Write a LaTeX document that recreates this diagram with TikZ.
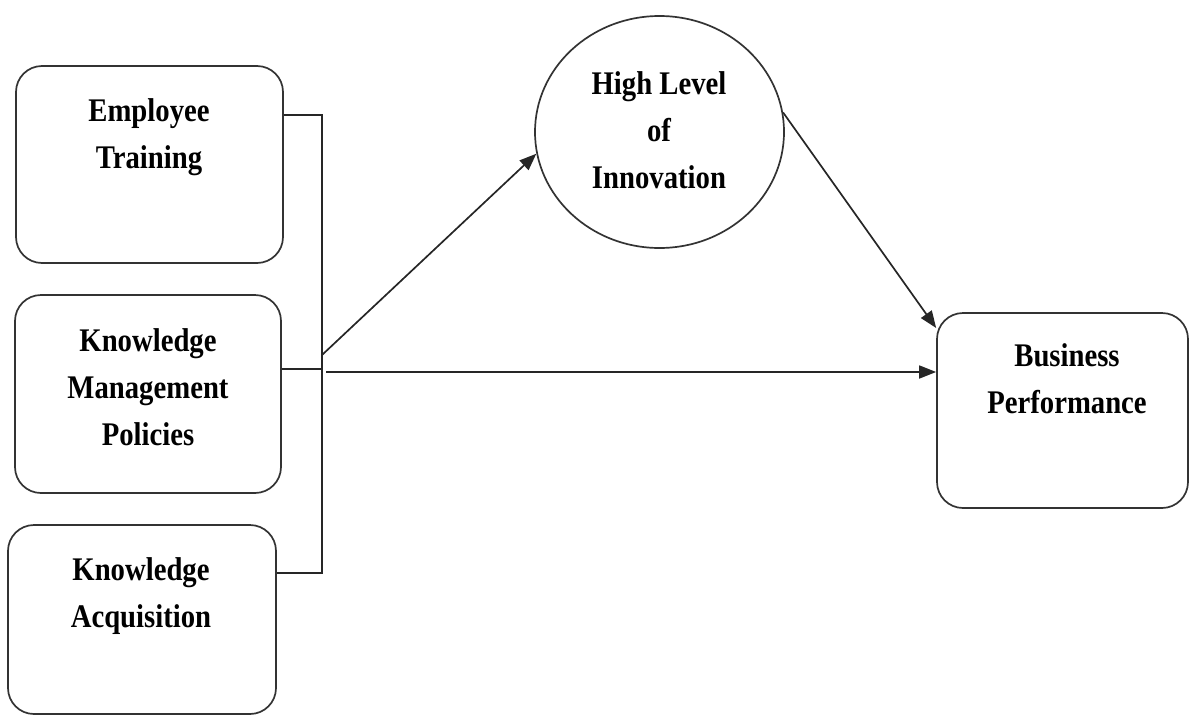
\documentclass[tikz,border=0pt]{standalone}
\usepackage{fontspec}
\setmainfont[FakeStretch=0.87]{Liberation Serif}
\usetikzlibrary{shapes.geometric,arrows.meta,calc}
\tikzset{
  frame/.style={draw=black!80, line width=1.7pt},
  factorbox/.style={frame, rounded corners=26pt, inner sep=0pt},
  lbl/.style={align=center, anchor=base, inner sep=0pt,
    font=\bfseries\fontsize{33}{47}\selectfont},
  wire/.style={draw=black!85, line width=1.7pt},
  link/.style={wire, -{Triangle[length=17pt,width=13pt]}},
}
\begin{document}
\begin{tikzpicture}[x=1pt,y=-1pt]
\useasboundingbox (0,0) rectangle (1190,715);

% input factors
\node[factorbox, minimum width=267pt, minimum height=197pt] (et) at (149.5,164.5) {};
\node[factorbox, minimum width=266pt, minimum height=198pt] (kmp) at (148,394) {};
\node[factorbox, minimum width=268pt, minimum height=189pt] (ka) at (142,619.5) {};

% mediator and outcome
\node[frame, ellipse, minimum width=249pt, minimum height=232pt, inner sep=0pt] (hli) at (659.5,132) {};
\node[factorbox, minimum width=251pt, minimum height=195pt] (bp) at (1062.5,410.5) {};

% labels (anchored at the baseline of their last line)
\node[lbl] (etl) at (149,168) {Employee\\Training};
\node[lbl] (kmpl) at (148,445) {Knowledge\\Management\\Policies};
\node[lbl] (kal) at (141,627) {Knowledge\\Acquisition};
\node[lbl] (hlil) at (659,188) {High Level\\of\\Innovation};
\node[lbl] (bpl) at (1067,413) {Business\\Performance};

% bracket joining the three factors
\coordinate (j1) at (322,115);
\coordinate (j2) at (322,369);
\coordinate (j3) at (322,573);
\draw[wire] (j1 -| et.east) -- (j1) -- (j3) -- (j3 -| ka.east);
\draw[wire] (j2 -| kmp.east) -- (j2);

% paths of influence
\coordinate (d0) at (322,355);
\coordinate (h0) at (326,372);
\coordinate (b1) at (0,328);
\draw[link] (d0) -- (hli.190);
\draw[link] (hli.9) -- (b1 -| bp.west);
\draw[link] (h0) -- (h0 -| bp.west);
\end{tikzpicture}
\end{document}
